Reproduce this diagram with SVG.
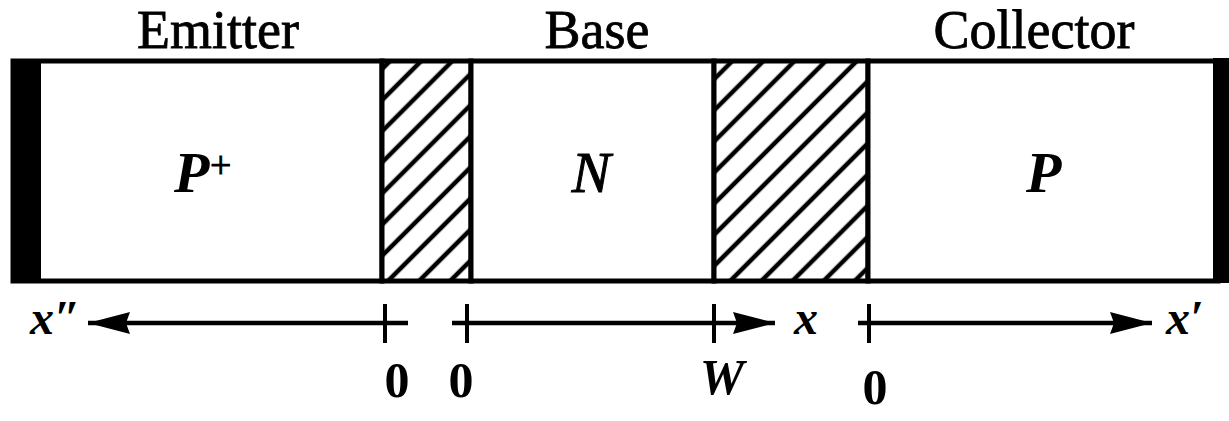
<svg xmlns="http://www.w3.org/2000/svg" width="1229" height="421" viewBox="0 0 1229 421">
<style>
.lbl{font-family:"Liberation Serif","Times New Roman",serif;fill:#000}
.head{font-size:54px;text-anchor:middle;stroke:#000;stroke-width:0.8}
.ital{font-style:italic}
.bold{font-weight:bold}
.frame{fill:#fff;stroke:#000;stroke-width:5}
.axis{stroke:#000;stroke-width:4.5;fill:none}
.tick{stroke:#000;stroke-width:4}
.num{font-size:50px;text-anchor:middle;font-weight:bold}
</style>
<defs>
<pattern id="hatch" patternUnits="userSpaceOnUse" width="22" height="22" patternTransform="rotate(45)">
<rect width="22" height="22" fill="#fff"/>
<line x1="11" y1="-2" x2="11" y2="24" stroke="#000" stroke-width="4.5"/>
</pattern>
<marker id="arr" markerUnits="userSpaceOnUse" markerWidth="46" markerHeight="28" refX="42" refY="13" orient="auto">
<path d="M0,2 L42,13 L0,24 L4,13 Z" fill="#000"/>
</marker>
</defs>
<rect width="1229" height="421" fill="#fff"/>

<g id="titles">
<text class="lbl head" x="218" y="48">Emitter</text>
<text class="lbl head" x="597" y="48">Base</text>
<text class="lbl head" x="1034" y="48">Collector</text>
</g>

<g id="emitter">
<rect class="frame" x="13" y="61" width="369" height="220"/>
<rect x="11" y="59" width="30" height="224" fill="#000"/>
<text class="lbl ital bold" x="174" y="192" font-size="58">P</text>
<text class="lbl" x="210" y="178" font-size="38" stroke="#000" stroke-width="0.8">+</text>
</g>

<g id="junction-eb">
<rect x="382" y="61" width="89" height="220" fill="url(#hatch)" stroke="#000" stroke-width="5"/>
</g>

<g id="base">
<rect class="frame" x="471" y="61" width="243" height="220"/>
<text class="lbl ital" x="591" y="192" font-size="58" text-anchor="middle" stroke="#000" stroke-width="1">N</text>
</g>

<g id="junction-bc">
<rect x="714" y="61" width="154" height="220" fill="url(#hatch)" stroke="#000" stroke-width="5"/>
</g>

<g id="collector">
<rect class="frame" x="868" y="61" width="350" height="220"/>
<rect x="1213" y="58" width="16" height="225" fill="#000"/>
<text class="lbl ital bold" x="1026" y="192" font-size="58">P</text>
</g>

<g id="connectors">
<line class="axis" x1="408" y1="323" x2="88" y2="323" marker-end="url(#arr)"/>
<line class="tick" x1="385" y1="304" x2="385" y2="343"/>
<line class="axis" x1="452" y1="323" x2="775" y2="323" marker-end="url(#arr)"/>
<line class="tick" x1="467" y1="304" x2="467" y2="343"/>
<line class="tick" x1="714" y1="304" x2="714" y2="343"/>
<line class="axis" x1="858" y1="323" x2="1152" y2="323" marker-end="url(#arr)"/>
<line class="tick" x1="869" y1="304" x2="869" y2="343"/>
</g>

<g id="axis-labels">
<text class="lbl ital bold" x="30" y="334" font-size="48">x″</text>
<text class="lbl ital bold" x="794" y="334" font-size="48">x</text>
<text class="lbl ital bold" x="1166" y="334" font-size="48">x′</text>
<text class="lbl num" x="397" y="397">0</text>
<text class="lbl num" x="461" y="397">0</text>
<text class="lbl ital bold" x="722" y="394" font-size="50" text-anchor="middle">W</text>
<text class="lbl num" x="875" y="404">0</text>
</g>
</svg>
